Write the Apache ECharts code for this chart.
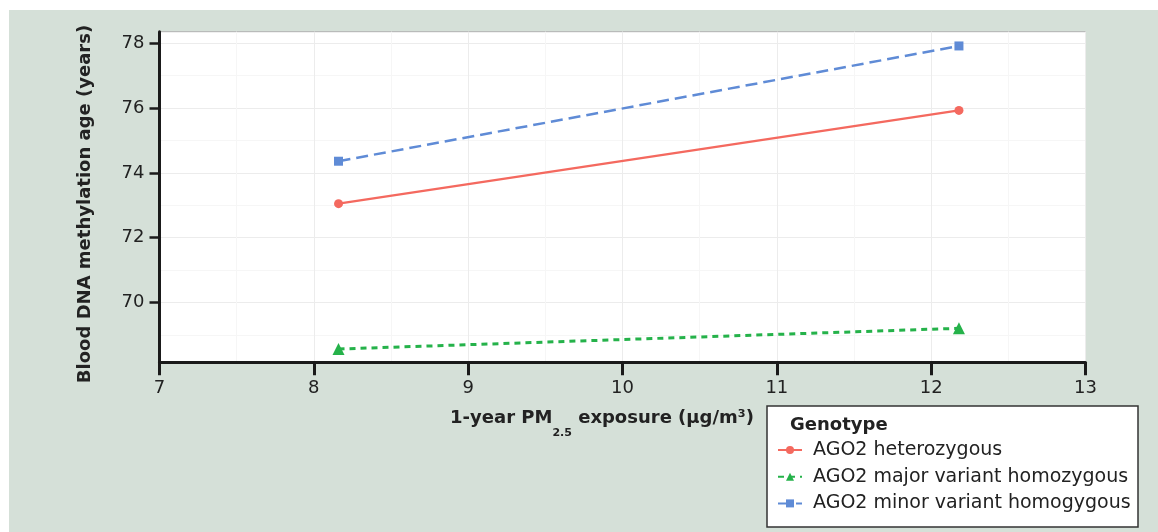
<!DOCTYPE html>
<html>
<head>
<meta charset="utf-8">
<script src="https://cdn.jsdelivr.net/npm/echarts@6/dist/echarts.min.js"></script>
<style>
html,body{margin:0;padding:0;background:#fff;}
#bg{position:absolute;left:9px;top:10px;width:1149px;height:522px;background:#d5e0d8;}
#chart{position:absolute;left:0;top:0;width:1158px;height:532px;}
</style>
</head>
<body>
<div id="bg"></div>
<div id="chart"></div>
<script>
// Data
const pmExposure = [8.16, 12.18];
const ago2Heterozygous = [73.05, 75.93];
const ago2MajorHomozygous = [68.56, 69.2];
const ago2MinorHomogygous = [74.36, 77.92];
const seriesNames = ['AGO2 heterozygous', 'AGO2 major variant homozygous', 'AGO2 minor variant homogygous'];
const xTicks = [7, 8, 9, 10, 11, 12, 13];
const yTicks = [70, 72, 74, 76, 78];
const legendTitle = 'Genotype';
const yTitle = 'Blood DNA methylation age (years)';

const FONT = 'DejaVu Sans';
function pairs(xs, ys) { return xs.map((x, i) => [x, ys[i]]); }

const chart = echarts.init(document.getElementById('chart'), null, { renderer: 'canvas' });
chart.setOption({
  backgroundColor: 'transparent',
  animation: false,
  grid: {
    left: 159.5, right: 72.5, top: 31.7, bottom: 169.7,
    show: true, backgroundColor: '#ffffff', borderColor: '#b0b0b0', borderWidth: 1
  },
  xAxis: {
    type: 'value', min: xTicks[0], max: xTicks[xTicks.length - 1], interval: 1,
    axisLine: { show: true, lineStyle: { color: '#1a1a1a', width: 3 } },
    axisTick: { show: true, length: 13, lineStyle: { color: '#1a1a1a', width: 3 } },
    axisLabel: { fontFamily: FONT, fontSize: 18, color: '#222', margin: 17 },
    splitLine: { show: true, lineStyle: { color: '#ececec', width: 1 } },
    minorTick: { show: false, splitNumber: 2 },
    minorSplitLine: { show: true, lineStyle: { color: '#f6f6f6', width: 1 } }
  },
  yAxis: {
    type: 'value', min: 68.15, max: 78.36,
    axisLine: { show: true, onZero: false, lineStyle: { color: '#1a1a1a', width: 3 } },
    axisTick: { show: true, length: 10, lineStyle: { color: '#1a1a1a', width: 2.5 }, customValues: yTicks },
    axisLabel: { fontFamily: FONT, fontSize: 18, color: '#222', margin: 15, customValues: yTicks },
    splitLine: { show: true, lineStyle: { color: '#ececec', width: 1 } },
    minorTick: { show: false, splitNumber: 2 },
    minorSplitLine: { show: true, lineStyle: { color: '#f6f6f6', width: 1 } }
  },
  legend: {
    orient: 'vertical', left: 777, top: 440,
    itemWidth: 24, itemHeight: 10, itemGap: 6.7,
    padding: 0,
    textStyle: { fontFamily: FONT, fontSize: 19, color: '#222', lineHeight: 20, padding: [0, 0, 0, 6] },
    data: seriesNames
  },
  graphic: [
    { type: 'rect', z: 0, shape: { x: 767, y: 406, width: 371, height: 121 },
      style: { fill: '#ffffff', stroke: '#333333', lineWidth: 1.5 } },
    { type: 'text', z: 5, x: 790, y: 425.5,
      style: { text: legendTitle, fontFamily: FONT, fontWeight: 'bold', fontSize: 18, fill: '#222',
               textAlign: 'left', textVerticalAlign: 'middle' } },
    { type: 'text', z: 5, x: 85, y: 204, rotation: Math.PI / 2,
      style: { text: yTitle, fontFamily: FONT, fontWeight: 'bold', fontSize: 18, fill: '#222',
               textAlign: 'center', textVerticalAlign: 'middle' } },
    { type: 'text', z: 5, x: 602, y: 409,
      style: {
        text: '{b|1-year PM}{s|2.5}{b| exposure (μg/m³)}',
        textAlign: 'center', textVerticalAlign: 'top',
        rich: {
          b: { fontFamily: FONT, fontWeight: 'bold', fontSize: 18, fill: '#222', color: '#222', lineHeight: 20, verticalAlign: 'top' },
          s: { fontFamily: FONT, fontWeight: 'bold', fontSize: 11, fill: '#222', color: '#222', lineHeight: 11, verticalAlign: 'top', padding: [19, 0, 0, 0] }
        }
      } }
  ],
  series: [
    {
      name: seriesNames[0], type: 'line', data: pairs(pmExposure, ago2Heterozygous),
      symbol: 'circle', symbolSize: 9, color: '#f4695f',
      lineStyle: { color: '#f4695f', width: 2.5, type: 'solid' },
      itemStyle: { color: '#f4695f' }
    },
    {
      name: seriesNames[1], type: 'line', data: pairs(pmExposure, ago2MajorHomozygous),
      symbol: 'triangle', symbolSize: 12, color: '#25b24a',
      lineStyle: { color: '#25b24a', width: 3, type: [6, 5] },
      itemStyle: { color: '#25b24a' }
    },
    {
      name: seriesNames[2], type: 'line', data: pairs(pmExposure, ago2MinorHomogygous),
      symbol: 'rect', symbolSize: 9, color: '#5f8bd6',
      lineStyle: { color: '#5f8bd6', width: 2.5, type: [12, 6] },
      itemStyle: { color: '#5f8bd6' }
    }
  ]
});
</script>
</body>
</html>
